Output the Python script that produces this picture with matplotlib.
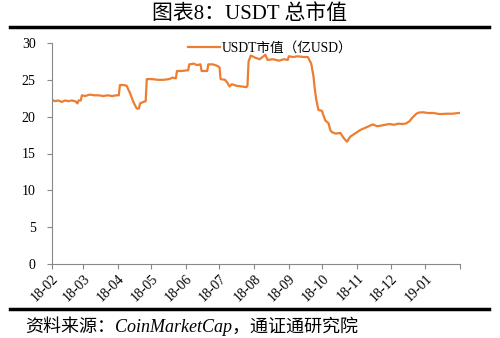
import numpy as np
import matplotlib
matplotlib.use("Agg")
import matplotlib.pyplot as plt

plt.rcParams['font.family'] = ['Liberation Serif', 'Noto Sans CJK SC']

# data: day offset from 2018-02-01, value (亿USD)
days = [0, 3, 6, 9, 12, 15, 18, 21, 23, 24, 26, 27, 30, 34, 38, 42, 46, 50, 54, 58, 60,
        61, 64, 67, 70, 73, 76, 78, 79, 82, 84, 85, 90, 95, 100, 105, 108, 111,
        112, 116, 122, 123, 127, 130, 133, 134, 139, 140, 144, 148, 150, 151, 155, 157,
        159, 161, 165, 170, 174, 175, 176, 178, 182, 186, 191, 193, 198, 203, 208, 211,
        212, 216, 220, 225, 229, 232, 234, 235, 236.5, 238.5, 241.5, 244.5, 247.5, 249,
        250.5, 254, 258, 261, 264, 267, 270, 273, 276, 279, 282, 287, 291, 295, 298,
        302, 306, 310, 314, 317, 320, 322, 326, 328, 332, 336, 341, 347, 353, 358, 364]
values = [22.3, 22.1, 22.2, 22.0, 22.2, 22.1, 22.2, 22.1, 21.8, 22.2, 22.2, 22.9, 22.8, 23.0, 22.9, 22.9, 22.8, 22.9, 22.8, 22.9, 22.9,
          24.3, 24.3, 24.2, 23.2, 22.0, 21.1, 21.1, 21.8, 22.0, 22.1, 25.1, 25.1, 25.0, 25.0, 25.1, 25.3, 25.2,
          26.2, 26.2, 26.3, 27.1, 27.2, 27.0, 27.1, 26.2, 26.2, 27.1, 27.1, 26.9, 26.7, 25.1, 25.0, 24.6,
          24.1, 24.4, 24.2, 24.1, 24.0, 24.2, 27.5, 28.3, 28.0, 27.8, 28.4, 27.7, 27.8, 27.6, 27.8, 27.7,
          28.2, 28.1, 28.2, 28.1, 28.1, 27.2, 25.5, 24.0, 22.3, 20.9, 20.8, 19.5, 19.1, 18.2,
          17.9, 17.7, 17.8, 17.1, 16.6, 17.3, 17.6, 17.9, 18.2, 18.4, 18.6, 18.95, 18.7, 18.8, 18.9,
          19.0, 18.9, 19.05, 19.0, 19.1, 19.4, 19.8, 20.4, 20.55, 20.6, 20.5, 20.5, 20.35, 20.4, 20.4, 20.5]

start = np.datetime64('2018-02-01')
dates = start + np.round(np.array(days) * 24).astype(int).astype('timedelta64[h]')
dates = dates.astype('datetime64[ms]').astype(object)

tick_months = ['2018-02-01', '2018-03-01', '2018-04-01', '2018-05-01', '2018-06-01', '2018-07-01',
               '2018-08-01', '2018-09-01', '2018-10-01', '2018-11-01', '2018-12-01', '2019-01-01',
               '2019-02-01']
tick_labels = ['18-02', '18-03', '18-04', '18-05', '18-06', '18-07', '18-08', '18-09',
               '18-10', '18-11', '18-12', '19-01', '']

title = '图表8：USDT 总市值'
series_name = 'USDT市值（亿USD）'
source = '资料来源：CoinMarketCap，通证通研究院'

fig = plt.figure(figsize=(5.0, 3.38), dpi=100)
W, H = 500, 338
ax = fig.add_axes([51.7 / W, 1 - 264 / H, (460 - 51.7) / W, (264 - 43) / H])

ax.plot(dates, values, color='#ED7D31', lw=1.6, label=series_name)
ax.set_ylim(0, 30)
ax.set_yticks([0, 5, 10, 15, 20, 25, 30])
tick_dates = [np.datetime64(t).astype('datetime64[ms]').astype(object) for t in tick_months]
ax.set_xlim(tick_dates[0], tick_dates[-1])
ax.set_xticks(tick_dates)
ax.set_xticklabels(tick_labels, rotation=45, ha='right', rotation_mode='anchor')
ax.tick_params(axis='both', labelsize=10, colors='#888888', length=3.5, width=0.8, labelcolor='black')
ax.tick_params(axis='x', pad=2)
ax.tick_params(axis='y', pad=8)
for s in ['top', 'right']:
    ax.spines[s].set_visible(False)
for s in ['left', 'bottom']:
    ax.spines[s].set_color('#888888')
    ax.spines[s].set_linewidth(0.8)

leg = ax.legend(loc='upper center', bbox_to_anchor=(0.535, 1.06), frameon=False,
                fontsize=9.8, handlelength=2.4, handletextpad=0.1)

fig.text(0.5, 1 - 14 / H, title, ha='center', va='center', fontsize=15)
fig.add_artist(plt.Line2D([10 / W, 489 / W], [1 - 27 / H, 1 - 27 / H], color='black', lw=2.5))
fig.add_artist(plt.Line2D([10 / W, 489 / W], [1 - 309 / H, 1 - 309 / H], color='black', lw=2.5))
fig.text(25 / W, 1 - 326 / H, source, ha='left', va='center', fontsize=13, style='italic')

fig.savefig('out.png', dpi=100)
